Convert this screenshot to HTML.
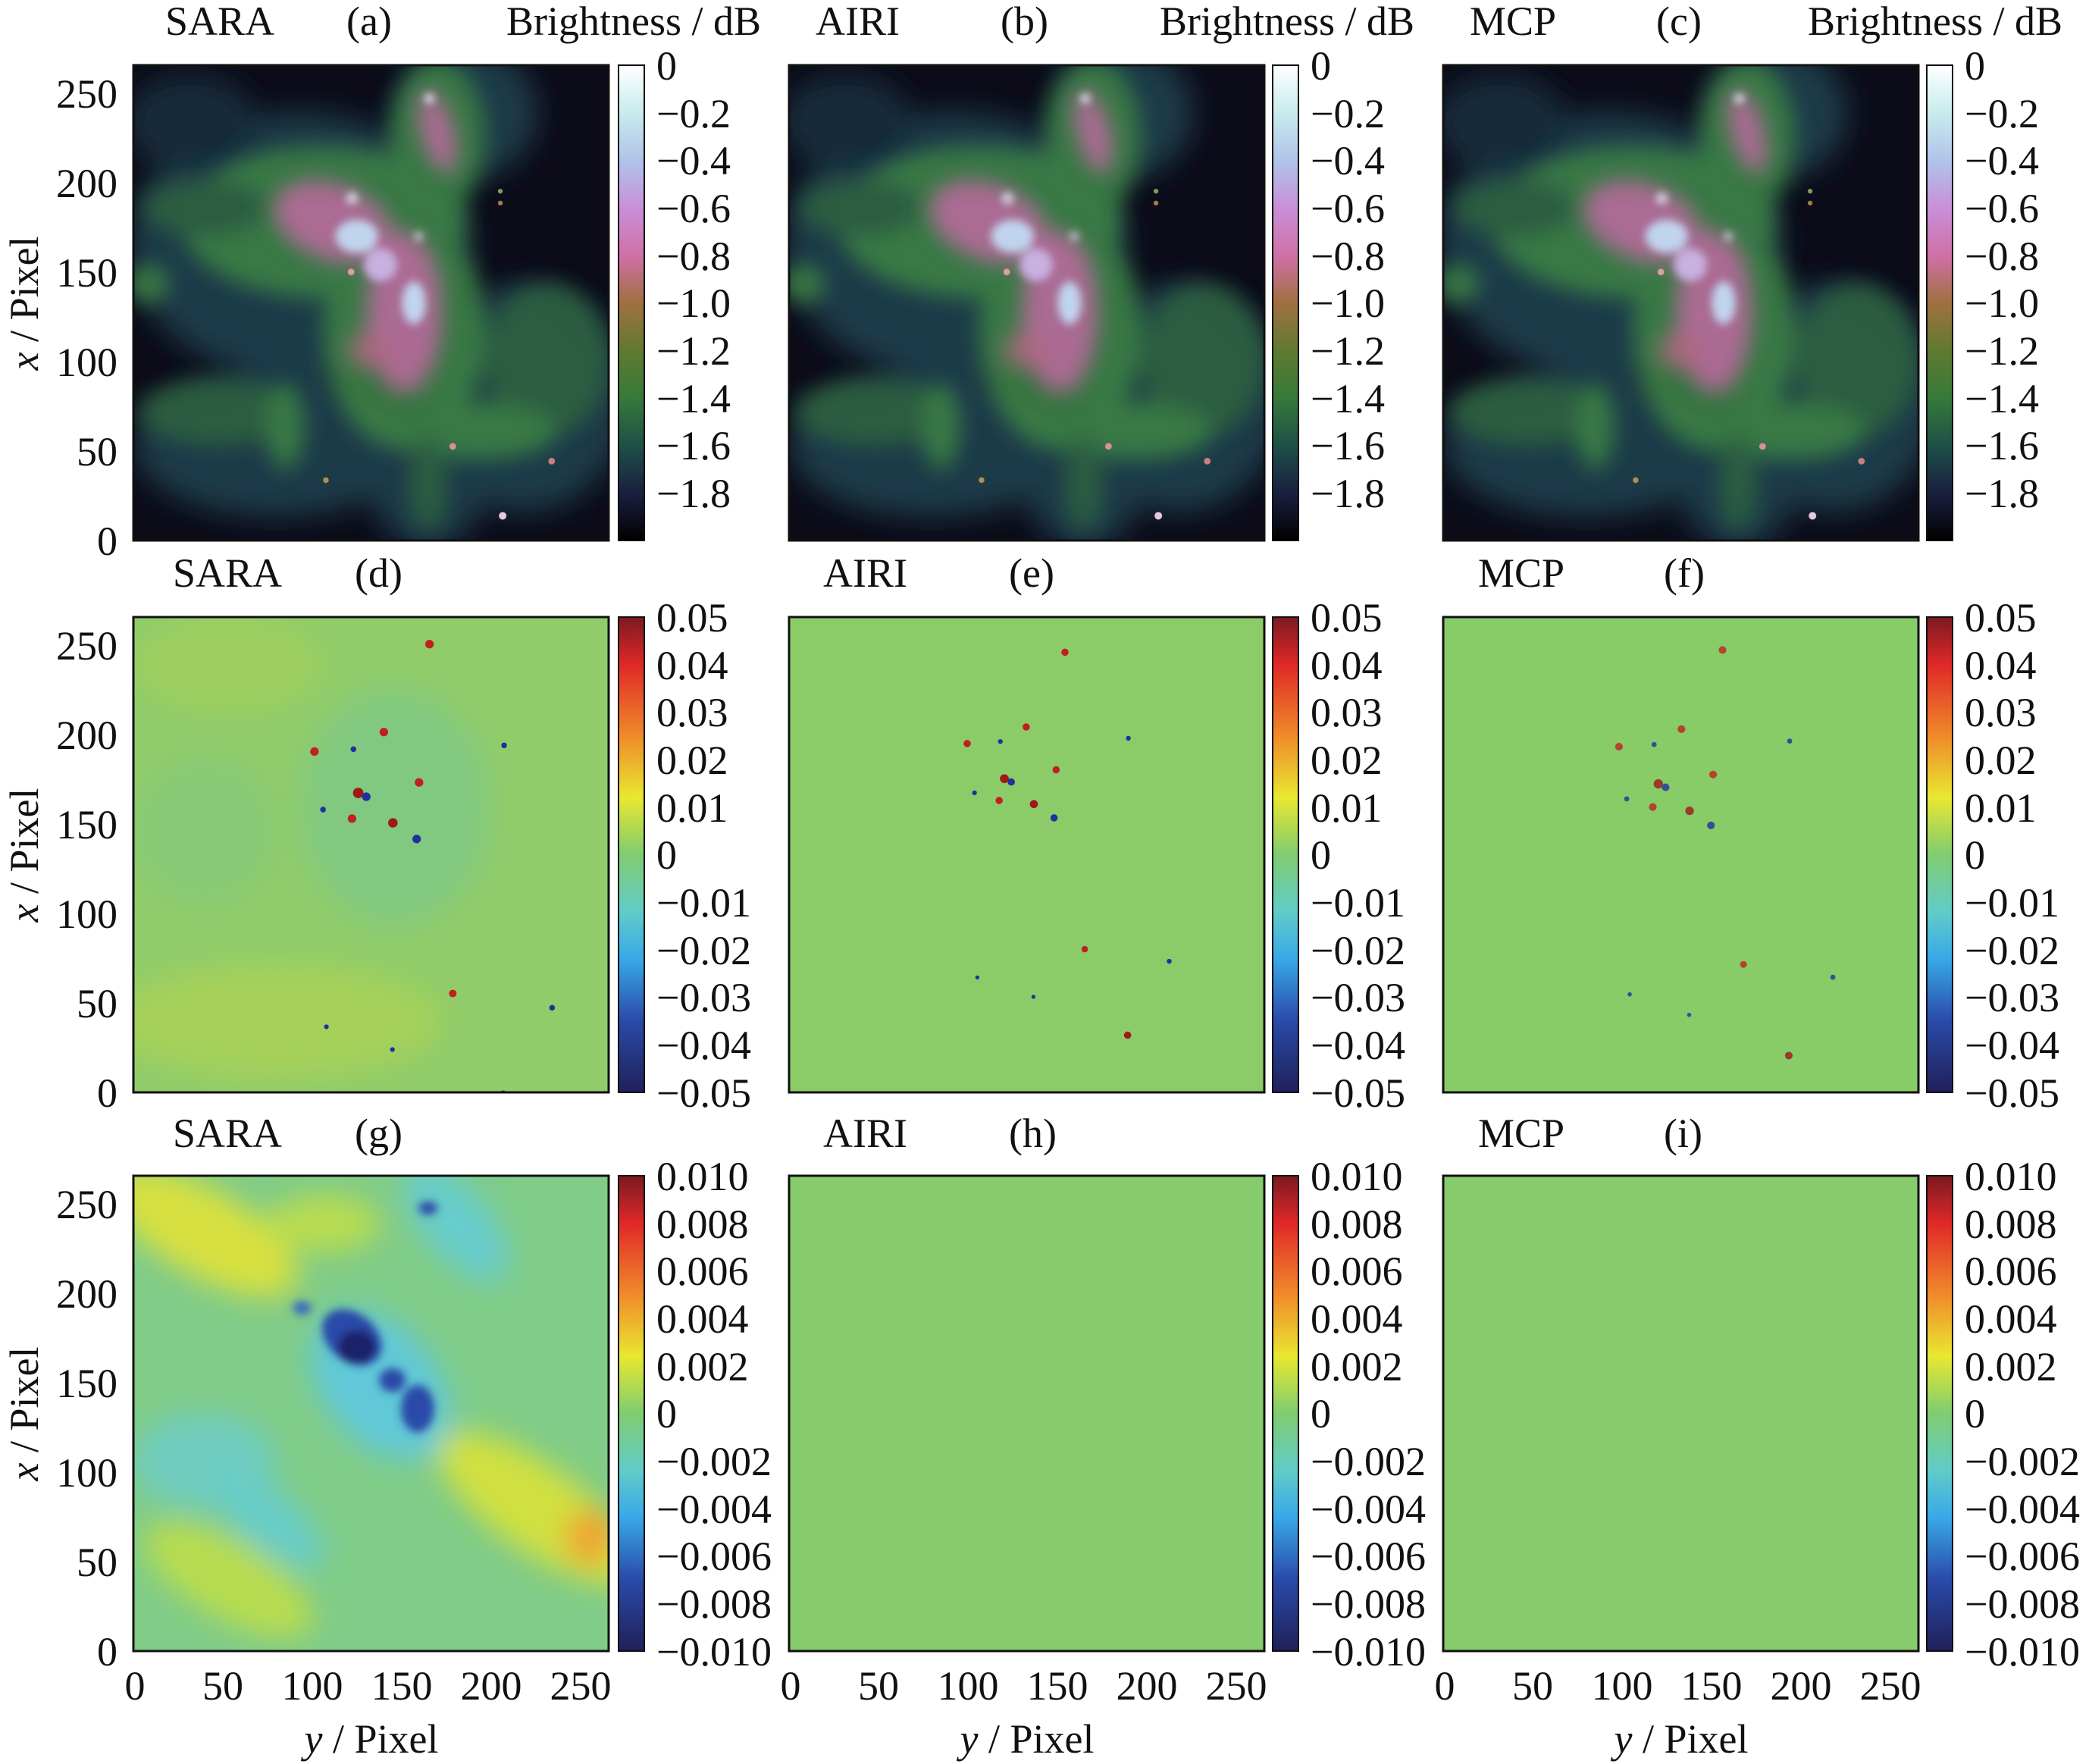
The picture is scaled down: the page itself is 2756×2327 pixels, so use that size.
<!DOCTYPE html>
<html><head><meta charset="utf-8"><style>
html,body{margin:0;padding:0;background:#fff}
svg{display:block}
text{font-family:"Liberation Serif",serif;font-size:54px;fill:#111}
</style></head><body>
<svg width="2756" height="2327" viewBox="0 0 2756 2327" xmlns="http://www.w3.org/2000/svg">
<defs>
<filter id="b1" x="-20%" y="-20%" width="140%" height="140%"><feGaussianBlur stdDeviation="22"/></filter>
<filter id="b2" x="-20%" y="-20%" width="140%" height="140%"><feGaussianBlur stdDeviation="9"/></filter>
<filter id="b3" x="-20%" y="-20%" width="140%" height="140%"><feGaussianBlur stdDeviation="30"/></filter>
<clipPath id="cp"><rect x="0" y="0" width="1000" height="1000"/></clipPath>
<linearGradient id="cubeh" x1="0" y1="0" x2="0" y2="1">
<stop offset="0" stop-color="#ffffff"/><stop offset="0.1" stop-color="#c8ecec"/><stop offset="0.2" stop-color="#b0c4ea"/><stop offset="0.3" stop-color="#c890d8"/><stop offset="0.4" stop-color="#d070a8"/><stop offset="0.5" stop-color="#a07040"/><stop offset="0.6" stop-color="#607a30"/><stop offset="0.7" stop-color="#357a3a"/><stop offset="0.8" stop-color="#1e5048"/><stop offset="0.9" stop-color="#1a2040"/><stop offset="1" stop-color="#000000"/>
</linearGradient>
<linearGradient id="jet" x1="0" y1="0" x2="0" y2="1">
<stop offset="0" stop-color="#7a1a20"/><stop offset="0.1" stop-color="#e02828"/><stop offset="0.25" stop-color="#f08a2a"/><stop offset="0.38" stop-color="#e8e830"/><stop offset="0.5" stop-color="#80cc70"/><stop offset="0.62" stop-color="#60ccc8"/><stop offset="0.72" stop-color="#38a8e8"/><stop offset="0.85" stop-color="#2a4aa8"/><stop offset="1" stop-color="#20205a"/>
</linearGradient>
<g id="neb">
<rect width="1000" height="1000" fill="#0c0b18"/>
<g filter="url(#b3)">
<ellipse cx="350" cy="380" rx="360" ry="280" fill="#1f3a48"/>
<ellipse cx="820" cy="700" rx="220" ry="240" fill="#1f3a48"/>
<ellipse cx="300" cy="800" rx="300" ry="150" fill="#1f3a48"/>
<ellipse cx="620" cy="880" rx="120" ry="140" fill="#1f3a48"/>
<ellipse cx="700" cy="100" rx="150" ry="140" fill="#1f3a48"/>
<ellipse cx="120" cy="120" rx="140" ry="100" fill="#182a3a"/>
</g>
<g filter="url(#b1)" opacity="0.85">
<ellipse cx="400" cy="330" rx="300" ry="160" fill="#3e8444"/>
<ellipse cx="640" cy="150" rx="100" ry="160" fill="#3e8444"/>
<ellipse cx="570" cy="560" rx="170" ry="250" fill="#3e8444"/>
<ellipse cx="870" cy="620" rx="130" ry="160" fill="#2f6440"/>
<ellipse cx="180" cy="730" rx="170" ry="70" fill="#2f6440"/>
<ellipse cx="30" cy="460" rx="45" ry="40" fill="#3e8444"/>
<ellipse cx="730" cy="770" rx="160" ry="60" fill="#3e8444"/>
<ellipse cx="320" cy="760" rx="40" ry="90" fill="#3e8444"/>
<ellipse cx="150" cy="300" rx="130" ry="60" fill="#2f6440"/>
<ellipse cx="620" cy="880" rx="40" ry="100" fill="#2f6440"/>
</g>
<g filter="url(#b1)">
<ellipse cx="420" cy="330" rx="130" ry="80" fill="#c868a8" transform="rotate(20 420 330)" opacity="0.8"/>
<ellipse cx="570" cy="520" rx="80" ry="170" fill="#c868a8" opacity="0.8"/>
<ellipse cx="640" cy="140" rx="35" ry="90" fill="#c868a8" transform="rotate(-15 640 140)" opacity="0.8"/>
<ellipse cx="500" cy="600" rx="50" ry="40" fill="#b06880" opacity="0.8"/>
</g>
<g filter="url(#b2)">
<ellipse cx="470" cy="360" rx="45" ry="35" fill="#c0d4ee"/>
<ellipse cx="520" cy="420" rx="35" ry="35" fill="#c8b0e0"/>
<ellipse cx="590" cy="500" rx="25" ry="45" fill="#c0d4ee"/>
<circle cx="623" cy="70" r="10" fill="#eef"/>
<circle cx="460" cy="280" r="12" fill="#dde"/>
<circle cx="600" cy="360" r="8" fill="#eef"/>
</g>
<circle cx="458" cy="435" r="7" fill="#d8a0a0"/>
<circle cx="672" cy="802" r="7" fill="#d890a0"/>
<circle cx="880" cy="833" r="7" fill="#c88080"/>
<circle cx="777" cy="948" r="8" fill="#eac8d8"/>
<circle cx="405" cy="873" r="6" fill="#b09050"/>
<circle cx="772" cy="265" r="5" fill="#80a060"/>
<circle cx="772" cy="290" r="5" fill="#a08050"/>
</g>
<g id="resid">
<circle cx="623" cy="57" r="9" fill="#c02020"/><circle cx="527" cy="242" r="9" fill="#c02020"/><circle cx="381" cy="283" r="9" fill="#c02020"/><circle cx="463" cy="278" r="6" fill="#2030a0"/><circle cx="601" cy="348" r="9" fill="#c02020"/><circle cx="473" cy="370" r="11" fill="#a01818"/><circle cx="490" cy="378" r="9" fill="#2030a0"/><circle cx="399" cy="405" r="6" fill="#2030a0"/><circle cx="460" cy="424" r="9" fill="#c02020"/><circle cx="546" cy="433" r="10" fill="#a01818"/><circle cx="596" cy="467" r="9" fill="#2030a0"/><circle cx="780" cy="270" r="6" fill="#2030a0"/><circle cx="778" cy="1005" r="9" fill="#a01818"/><circle cx="881" cy="822" r="6" fill="#2030a0"/><circle cx="672" cy="792" r="8" fill="#c02020"/><circle cx="406" cy="862" r="5" fill="#2030a0"/><circle cx="545" cy="910" r="5" fill="#2030a0"/>
</g>
</defs>

<g transform="translate(176,86) scale(0.627)" clip-path="url(#cp)"><use href="#neb"/></g>
<g transform="translate(1041,86) scale(0.627)" clip-path="url(#cp)"><use href="#neb"/></g>
<g transform="translate(1904,86) scale(0.627)" clip-path="url(#cp)"><use href="#neb"/></g>

<g transform="translate(176,814) scale(0.627)" clip-path="url(#cp)">
<rect width="1000" height="1000" fill="#90cc6a"/>
<g filter="url(#b3)" opacity="0.6"><ellipse cx="300" cy="850" rx="350" ry="120" fill="#b4d450"/><ellipse cx="200" cy="100" rx="200" ry="100" fill="#a8d058"/><ellipse cx="550" cy="400" rx="200" ry="250" fill="#78c890"/><ellipse cx="150" cy="450" rx="150" ry="150" fill="#80c880"/></g>
<use href="#resid"/></g>
<g transform="translate(1041,814) scale(0.627)" clip-path="url(#cp)">
<rect width="1000" height="1000" fill="#8ccc68"/><g transform="scale(0.85) translate(60,30)"><use href="#resid"/></g></g>
<g transform="translate(1904,814) scale(0.627)" clip-path="url(#cp)">
<rect width="1000" height="1000" fill="#88cc68"/><g opacity="0.8" transform="scale(0.9) translate(30,20)"><use href="#resid"/></g></g>

<g transform="translate(176,1551) scale(0.627)" clip-path="url(#cp)">
<rect width="1000" height="1000" fill="#80cc88"/>
<g filter="url(#b3)">
<ellipse cx="150" cy="120" rx="220" ry="90" fill="#d8e040" transform="rotate(30 150 120)"/>
<ellipse cx="400" cy="100" rx="120" ry="60" fill="#b8dc50"/>
<ellipse cx="850" cy="700" rx="250" ry="90" fill="#d0e040" transform="rotate(35 850 700)"/>
<ellipse cx="200" cy="850" rx="200" ry="80" fill="#b8dc50" transform="rotate(30 200 850)"/>
<ellipse cx="680" cy="100" rx="150" ry="70" fill="#68cccc" transform="rotate(50 680 100)"/>
<ellipse cx="150" cy="600" rx="150" ry="100" fill="#70ccc0"/>
<ellipse cx="280" cy="720" rx="150" ry="60" fill="#68ccc8" transform="rotate(40 280 720)"/>
<ellipse cx="520" cy="440" rx="180" ry="120" fill="#60c8d8" transform="rotate(50 520 440)"/>
<ellipse cx="960" cy="760" rx="50" ry="60" fill="#f0a030"/>
</g>
<g filter="url(#b2)">
<ellipse cx="460" cy="340" rx="70" ry="50" fill="#2a48a8" transform="rotate(40 460 340)"/>
<ellipse cx="470" cy="360" rx="40" ry="35" fill="#1e2468"/>
<ellipse cx="545" cy="430" rx="28" ry="25" fill="#2a48a8"/>
<ellipse cx="598" cy="490" rx="35" ry="50" fill="#2a48a8"/>
<ellipse cx="620" cy="68" rx="20" ry="14" fill="#2a48a8"/>
<ellipse cx="355" cy="278" rx="20" ry="14" fill="#3868c0"/>
</g>
</g>
<rect x="1041" y="1551" width="627" height="627" fill="#86cc6c"/>
<rect x="1904" y="1551" width="627" height="627" fill="#86cc6c"/>

<g fill="none" stroke="#111" stroke-width="3">
<rect x="176" y="86" width="627" height="627"/><rect x="1041" y="86" width="627" height="627"/><rect x="1904" y="86" width="627" height="627"/>
<rect x="176" y="814" width="627" height="627"/><rect x="1041" y="814" width="627" height="627"/><rect x="1904" y="814" width="627" height="627"/>
<rect x="176" y="1551" width="627" height="627"/><rect x="1041" y="1551" width="627" height="627"/><rect x="1904" y="1551" width="627" height="627"/>
</g>

<g stroke="#111" stroke-width="2">
<rect x="816" y="86" width="34" height="627" fill="url(#cubeh)"/><rect x="1679" y="86" width="34" height="627" fill="url(#cubeh)"/><rect x="2542" y="86" width="34" height="627" fill="url(#cubeh)"/>
<rect x="816" y="814" width="34" height="627" fill="url(#jet)"/><rect x="1679" y="814" width="34" height="627" fill="url(#jet)"/><rect x="2542" y="814" width="34" height="627" fill="url(#jet)"/>
<rect x="816" y="1551" width="34" height="627" fill="url(#jet)"/><rect x="1679" y="1551" width="34" height="627" fill="url(#jet)"/><rect x="2542" y="1551" width="34" height="627" fill="url(#jet)"/>
</g>

<text x="218" y="46">SARA</text><text x="457" y="46">(a)</text><text x="668" y="46">Brightness / dB</text>
<text x="1076" y="46">AIRI</text><text x="1320" y="46">(b)</text><text x="1530" y="46">Brightness / dB</text>
<text x="1939" y="46">MCP</text><text x="2185" y="46">(c)</text><text x="2385" y="46">Brightness / dB</text>
<text x="228" y="774">SARA</text><text x="468" y="774">(d)</text>
<text x="1086" y="774">AIRI</text><text x="1331" y="774">(e)</text>
<text x="1950" y="774">MCP</text><text x="2195" y="774">(f)</text>
<text x="228" y="1513">SARA</text><text x="468" y="1513">(g)</text>
<text x="1086" y="1513">AIRI</text><text x="1331" y="1513">(h)</text>
<text x="1950" y="1513">MCP</text><text x="2195" y="1513">(i)</text>

<g text-anchor="middle">
<text transform="translate(50,400) rotate(-90)"><tspan font-style="italic">x</tspan> / Pixel</text>
<text transform="translate(50,1128) rotate(-90)"><tspan font-style="italic">x</tspan> / Pixel</text>
<text transform="translate(50,1865) rotate(-90)"><tspan font-style="italic">x</tspan> / Pixel</text>
<text x="490" y="2312"><tspan font-style="italic">y</tspan> / Pixel</text>
<text x="1355" y="2312"><tspan font-style="italic">y</tspan> / Pixel</text>
<text x="2218" y="2312"><tspan font-style="italic">y</tspan> / Pixel</text>
</g>

<g text-anchor="end">
<text x="155" y="732">0</text><text x="155" y="614">50</text><text x="155" y="496">100</text><text x="155" y="378">150</text><text x="155" y="260">200</text><text x="155" y="142">250</text>
<text x="155" y="1460">0</text><text x="155" y="1342">50</text><text x="155" y="1224">100</text><text x="155" y="1106">150</text><text x="155" y="988">200</text><text x="155" y="870">250</text>
<text x="155" y="2197">0</text><text x="155" y="2079">50</text><text x="155" y="1961">100</text><text x="155" y="1843">150</text><text x="155" y="1725">200</text><text x="155" y="1607">250</text>
</g>
<g text-anchor="middle">
<text x="178" y="2242">0</text><text x="294" y="2242">50</text><text x="412" y="2242">100</text><text x="530" y="2242">150</text><text x="648" y="2242">200</text><text x="766" y="2242">250</text>
<text x="1043" y="2242">0</text><text x="1159" y="2242">50</text><text x="1277" y="2242">100</text><text x="1395" y="2242">150</text><text x="1513" y="2242">200</text><text x="1631" y="2242">250</text>
<text x="1906" y="2242">0</text><text x="2022" y="2242">50</text><text x="2140" y="2242">100</text><text x="2258" y="2242">150</text><text x="2376" y="2242">200</text><text x="2494" y="2242">250</text>
</g>

<g>
<text x="866" y="105">0</text><text x="866" y="168">−0.2</text><text x="866" y="230">−0.4</text><text x="866" y="293">−0.6</text><text x="866" y="356">−0.8</text><text x="866" y="418">−1.0</text><text x="866" y="481">−1.2</text><text x="866" y="544">−1.4</text><text x="866" y="606">−1.6</text><text x="866" y="669">−1.8</text>
<text x="1729" y="105">0</text><text x="1729" y="168">−0.2</text><text x="1729" y="230">−0.4</text><text x="1729" y="293">−0.6</text><text x="1729" y="356">−0.8</text><text x="1729" y="418">−1.0</text><text x="1729" y="481">−1.2</text><text x="1729" y="544">−1.4</text><text x="1729" y="606">−1.6</text><text x="1729" y="669">−1.8</text>
<text x="2592" y="105">0</text><text x="2592" y="168">−0.2</text><text x="2592" y="230">−0.4</text><text x="2592" y="293">−0.6</text><text x="2592" y="356">−0.8</text><text x="2592" y="418">−1.0</text><text x="2592" y="481">−1.2</text><text x="2592" y="544">−1.4</text><text x="2592" y="606">−1.6</text><text x="2592" y="669">−1.8</text>
</g>
<g>
<text x="866" y="833">0.05</text><text x="866" y="896">0.04</text><text x="866" y="958">0.03</text><text x="866" y="1021">0.02</text><text x="866" y="1084">0.01</text><text x="866" y="1146">0</text><text x="866" y="1209">−0.01</text><text x="866" y="1272">−0.02</text><text x="866" y="1334">−0.03</text><text x="866" y="1397">−0.04</text><text x="866" y="1460">−0.05</text>
<text x="1729" y="833">0.05</text><text x="1729" y="896">0.04</text><text x="1729" y="958">0.03</text><text x="1729" y="1021">0.02</text><text x="1729" y="1084">0.01</text><text x="1729" y="1146">0</text><text x="1729" y="1209">−0.01</text><text x="1729" y="1272">−0.02</text><text x="1729" y="1334">−0.03</text><text x="1729" y="1397">−0.04</text><text x="1729" y="1460">−0.05</text>
<text x="2592" y="833">0.05</text><text x="2592" y="896">0.04</text><text x="2592" y="958">0.03</text><text x="2592" y="1021">0.02</text><text x="2592" y="1084">0.01</text><text x="2592" y="1146">0</text><text x="2592" y="1209">−0.01</text><text x="2592" y="1272">−0.02</text><text x="2592" y="1334">−0.03</text><text x="2592" y="1397">−0.04</text><text x="2592" y="1460">−0.05</text>
</g>
<g>
<text x="866" y="1570">0.010</text><text x="866" y="1633">0.008</text><text x="866" y="1695">0.006</text><text x="866" y="1758">0.004</text><text x="866" y="1821">0.002</text><text x="866" y="1883">0</text><text x="866" y="1946">−0.002</text><text x="866" y="2009">−0.004</text><text x="866" y="2071">−0.006</text><text x="866" y="2134">−0.008</text><text x="866" y="2197">−0.010</text>
<text x="1729" y="1570">0.010</text><text x="1729" y="1633">0.008</text><text x="1729" y="1695">0.006</text><text x="1729" y="1758">0.004</text><text x="1729" y="1821">0.002</text><text x="1729" y="1883">0</text><text x="1729" y="1946">−0.002</text><text x="1729" y="2009">−0.004</text><text x="1729" y="2071">−0.006</text><text x="1729" y="2134">−0.008</text><text x="1729" y="2197">−0.010</text>
<text x="2592" y="1570">0.010</text><text x="2592" y="1633">0.008</text><text x="2592" y="1695">0.006</text><text x="2592" y="1758">0.004</text><text x="2592" y="1821">0.002</text><text x="2592" y="1883">0</text><text x="2592" y="1946">−0.002</text><text x="2592" y="2009">−0.004</text><text x="2592" y="2071">−0.006</text><text x="2592" y="2134">−0.008</text><text x="2592" y="2197">−0.010</text>
</g>
</svg>
</body></html>
